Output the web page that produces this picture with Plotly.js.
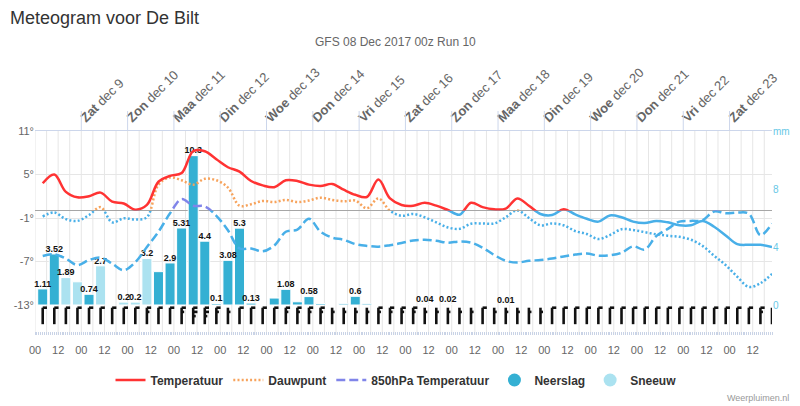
<!DOCTYPE html>
<html><head><meta charset="utf-8">
<script src="https://cdn.plot.ly/plotly-3.0.1.min.js"></script>
<style>html,body{margin:0;padding:0;background:#fff;}#chart{width:800px;height:406px;}</style>
</head><body><div id="chart"></div>
<script>
// ---- data (hours since 08 Dec 00:00 local time) ----
const hours = [4,10,16,22,28,34,40,46,52,58,64,70,76,82,88,94,100,106,112,118,124,130,136,142,148,154,160,166,172,178,184,190,196,202,208,214,220,226,232,238,244,250,256,262,268,274,280,286,292,298,304,310,316,322,328,334,340,346,352,358,364,370,376,382];
const temperature = [3.8,5.0,2.6,1.85,2.0,2.5,1.25,1.0,0.15,0.8, 4.0,4.8,5.2,8.2,8.2,7.1,6.0,5.4,4.1,3.5, 3.25,4.2,4.1,3.6,3.4,3.7,2.9,2.2,1.9,4.3, 1.7,0.8,0.7,1.1,0.7,0.1,-0.55,1.1,0.5,0.2, 0.3,1.7,0.7,-0.45,-0.6,0.2,-0.5,-1.1,-1.5,-0.65, -0.9,-1.5,-1.7,-1.4,-1.6,-2.0,-2.0,-1.4,-2.2,-3.4, -4.6,-4.7,-4.7,-5.0];
const dewPoint = [-0.8,-0.25,-1.15,-1.4,-0.6,0.5,-1.6,-1.05,-1.2,-0.9, 3.6,4.6,4.2,3.6,4.4,4.2,3.2,0.7,0.9,1.35, 1.2,1.5,1.2,1.4,1.8,1.5,1.3,1.4,0.35,1.7, 0.0,-0.7,-0.45,-0.9,-1.6,-2.3,-2.5,-1.8,-1.75,-1.75, -0.9,0.05,-1.0,-2.0,-1.75,-2.0,-2.8,-3.2,-3.9,-3.35, -2.55,-2.65,-2.95,-3.25,-3.45,-3.6,-4.0,-4.85,-6.2,-7.5, -9.1,-10.5,-10.0,-8.7];
const temp850 = [-6.25,-6.0,-6.6,-7.5,-6.8,-6.45,-7.3,-8.2,-7.1,-5.0, -2.9,-0.35,1.6,0.7,0.6,-0.7,-2.7,-5.2,-5.2,-5.6, -4.8,-2.9,-2.6,-1.1,-2.9,-3.7,-4.0,-4.6,-4.85,-4.95, -4.75,-4.45,-4.1,-4.0,-4.15,-4.4,-4.25,-4.4,-5.1,-6.1, -6.9,-7.15,-6.9,-6.8,-6.6,-6.3,-6.05,-5.9,-6.2,-6.15, -5.8,-4.9,-5.35,-3.5,-2.5,-1.5,-1.4,-1.3,-0.1,-0.35, -0.25,-0.4,-3.35,-1.75];
const rain = [1.11,3.52,0,0,0.74,0,0,0,0,0, 2.3,2.9,5.31,10.3,4.4,0.1,3.08,5.3,0.13,0, 0.48,1.08,0.22,0.58,0.1,0,0.08,0.6,0.08,0, 0,0,0,0.04,0,0.02,0,0,0,0, 0.01,0,0,0,0,0,0,0,0,0, 0,0,0,0,0,0,0,0,0,0, 0,0,0,0];
const snow = [0,0,1.89,1.6,0,2.7,0,0.2,0.2,3.2, 0,0,0,0,0,0,0,0,0,0, 0,0,0,0,0,0,0,0,0,0, 0,0,0,0,0,0,0,0,0,0, 0,0,0,0,0,0,0,0,0,0, 0,0,0,0,0,0,0,0,0,0, 0,0,0,0];
const windKnots = [10,10,10,10,10,10,10,10,10,15, 10,10,15,25,25,15,5,10,10,10, 10,15,15,15,15,5,5,5,5,15, 15,15,15,5,5,5,5,5,10,5, 5,5,5,5,10,10,10,10,10,10, 10,10,10,10,10,10,10,10,10,10, 10,10,15,10];
const hiddenLabels = [3,10,20,22,24,26,28]; // labels hidden by overlap in the original
const dayStartHours = [24,48,72,96,120,144,168,192,216,240,264,288,312,336,360];
const dayNames = ['Zat','Zon','Maa','Din','Woe','Don','Vri','Zat','Zon','Maa','Din','Woe','Don','Vri','Zat'];
const dayNumbers = [9,10,11,12,13,14,15,16,17,18,19,20,21,22,23];
const hourTickHours = [0,12,24,36,48,60,72,84,96,108,120,132,144,156,168,180,192,204,216,228,240,252,264,276,288,300,312,324,336,348,360,372];
const hourTickLabels = hourTickHours.map(h => (h % 24 === 0 ? '00' : '12'));
const tempTicks = [11,5,-1,-7,-13];
const mmTicks = [0,4,8,12];
const mmTickLabels = ['0','4','8','mm'];

// ---- geometry / style ----
const FONT = 'Liberation Sans, Arial, sans-serif';
const W = 800, H = 406, ML = 35, MR = 28, MT = 131, MB = 71;
const plotH = H - MT - MB;
const bandFrac = 30 / plotH;               // wind barb band below temperature area
const tMin = -13, tMax = 11;
const zeroFrac = bandFrac + (1 - bandFrac) * ((0 - tMin) / (tMax - tMin));
const xRange = [0, 382];
const NEG = '#48afe8';

const nz = a => a.map(v => (v > 0 ? v : null));

const traces = [];
traces.push({type:'bar', x:hours, y:nz(rain), yaxis:'y2', width:5.2, name:'Neerslag', showlegend:false,
  marker:{color:'#34b0d3', line:{color:'#ffffff', width:1}}, hoverinfo:'skip'});
traces.push({type:'bar', x:hours, y:nz(snow), yaxis:'y2', width:5.2, name:'Sneeuw', showlegend:false,
  marker:{color:'#abe2f0', line:{color:'#ffffff', width:1}}, hoverinfo:'skip'});
const total = hours.map((h,i) => rain[i] + snow[i]);
traces.push({type:'scatter', mode:'text', x:hours, y:total.map(v => v > 0 ? v : null), yaxis:'y2',
  text: total.map((v,i) => (v > 0 && hiddenLabels.indexOf(i) < 0) ? String(v) : ''),
  textposition:'top center', cliponaxis:false, showlegend:false, hoverinfo:'skip',
  textfont:{family:FONT, size:9, color:'#111', weight:'bold'}});

function zoneTraces(vals, posColor, dash, name, rank) {
  const common = {type:'scatter', mode:'lines', x:hours, y:vals, hoverinfo:'skip'};
  return [
    Object.assign({}, common, {yaxis:'y5', showlegend:false, line:{color:NEG, width:2.5, shape:'spline', dash:dash, simplify:false}}),
    Object.assign({}, common, {yaxis:'y4', name:name, legendrank:rank, line:{color:posColor, width:2.5, shape:'spline', dash:dash, simplify:false}})
  ];
}
traces.push(...zoneTraces(temp850, '#8085e9', '9px,4px', '850hPa Temperatuur', 3));
traces.push(...zoneTraces(dewPoint, '#f7a35c', '2px,2.2px', 'Dauwpunt', 2));
traces.push(...zoneTraces(temperature, '#ff3333', 'solid', 'Temperatuur', 1));

// wind barbs
const bx = [], by = [];
const staffTop = 0.91, staffBot = 0.36, barbLen = 2.2, barbStep = 0.14;
hours.forEach((h,i) => {
  const kn = windKnots[i];
  bx.push(h, h, null); by.push(staffBot, staffTop, null);
  const full = Math.floor(kn / 10), half = (kn % 10) >= 5;
  let pos = 0;
  for (let f = 0; f < full; f++) { const y = staffTop - pos*barbStep; bx.push(h, h+barbLen, null); by.push(y, y, null); pos++; }
  if (half) { if (pos === 0) pos = 1; const y = staffTop - pos*barbStep; bx.push(h, h+barbLen*0.6, null); by.push(y, y, null); }
});
traces.push({type:'scatter', mode:'lines', x:bx, y:by, yaxis:'y3', showlegend:false, hoverinfo:'skip',
  line:{color:'#111111', width:2.6}});

// carrier for the top (day) axis
traces.push({type:'scatter', mode:'markers', x:dayStartHours, y:dayStartHours.map(() => null), xaxis:'x2', yaxis:'y',
  showlegend:false, hoverinfo:'skip', marker:{opacity:0}});

// legend-only entries for the precipitation circles
traces.push({type:'scatter', mode:'markers', x:[null], y:[null], name:'Neerslag', legendrank:4,
  marker:{symbol:'circle', size:13, color:'#34b0d3'}});
traces.push({type:'scatter', mode:'markers', x:[null], y:[null], name:'Sneeuw', legendrank:5,
  marker:{symbol:'circle', size:13, color:'#abe2f0'}});

// gridlines and top day ticks
const shapes = [];
for (let h = xRange[0]; h <= xRange[1]; h += 6) {
  shapes.push({type:'line', xref:'x', yref:'paper', x0:h, x1:h, y0:0, y1:1, layer:'below', line:{color:'#e6e6e6', width:1}});
}
dayStartHours.forEach(h => shapes.push({type:'line', xref:'x', yref:'paper', x0:h, x1:h, y0:1, y1:1 + 20/plotH, line:{color:'#ccd6eb', width:1}}));

const layout = {
  width:W, height:H, margin:{l:ML, r:MR, t:MT, b:MB, pad:0},
  paper_bgcolor:'#ffffff', plot_bgcolor:'rgba(0,0,0,0)',
  font:{family:FONT, color:'#666'},
  title:{text:'Meteogram voor De Bilt', xref:'container', yref:'container', x:10/W, xanchor:'left', y:1-18/H, yanchor:'middle',
    font:{family:FONT, size:18, color:'#333'}},
  showlegend:true, barmode:'overlay',
  legend:{orientation:'h', x:(396-ML)/(W-ML-MR), xanchor:'center', y:(335-380)/plotH, yanchor:'middle',
    font:{family:FONT, size:12, color:'#333', weight:'bold'}, bgcolor:'rgba(0,0,0,0)', itemwidth:30, traceorder:'normal'},
  xaxis:{range:xRange, anchor:'y3', tickmode:'array', tickvals:hourTickHours, ticktext:hourTickLabels,
    showgrid:false, zeroline:false, showline:false, ticks:'', ticklabelstandoff:7,
    tickfont:{family:FONT, size:11, color:'#666'}, fixedrange:true,
    minor:{dtick:1, tick0:0, ticks:'inside', ticklen:3, tickcolor:'#c9d3e6', tickwidth:1, showgrid:false}},
  xaxis2:{range:xRange, overlaying:'x', side:'top', anchor:'y', tickmode:'array', tickvals:dayStartHours,
    ticktext: dayStartHours.map((h,i) => '<b>' + dayNames[i] + '</b> dec ' + dayNumbers[i]),
    tickangle:-45, showgrid:false, zeroline:false, showline:true, linecolor:'#ccd6eb', linewidth:1, ticks:'',
    tickfont:{family:FONT, size:13, color:'#666'}, fixedrange:true},
  yaxis:{domain:[bandFrac,1], range:[tMin,tMax], anchor:'x', tickmode:'array', tickvals:tempTicks, ticktext:tempTicks.map(v => v + '°'),
    showgrid:true, gridcolor:'#e6e6e6', zeroline:true, zerolinecolor:'#a6a6a6', zerolinewidth:1, showline:false, ticks:'',
    tickfont:{family:FONT, size:11, color:'#666'}, fixedrange:true},
  yaxis2:{overlaying:'y', side:'right', range:[0,12], tickmode:'array', tickvals:mmTicks, ticktext:mmTickLabels,
    showgrid:false, zeroline:false, showline:false, ticks:'', tickfont:{family:FONT, size:10, color:'#68c8e6'}, fixedrange:true},
  yaxis3:{domain:[0,bandFrac], range:[0,1], anchor:'x', visible:false, fixedrange:true},
  yaxis4:{domain:[zeroFrac,1], range:[0,tMax], anchor:'x', visible:false, fixedrange:true},
  yaxis5:{domain:[bandFrac,zeroFrac], range:[tMin,0], anchor:'x', visible:false, fixedrange:true},
  shapes:shapes,
  annotations:[
    {text:'GFS 08 Dec 2017 00z Run 10', xref:'paper', yref:'paper', x:(395-ML)/(W-ML-MR), y:(335-42)/plotH, xanchor:'center', yanchor:'middle',
      showarrow:false, font:{family:FONT, size:12, color:'#666'}},
    {text:'Weerpluimen.nl', xref:'paper', yref:'paper', x:(791-ML)/(W-ML-MR), y:(335-398)/plotH, xanchor:'right', yanchor:'middle',
      showarrow:false, font:{family:FONT, size:9, color:'#999'}}
  ]
};
Plotly.newPlot('chart', traces, layout, {displayModeBar:false, staticPlot:true});
</script></body></html>
